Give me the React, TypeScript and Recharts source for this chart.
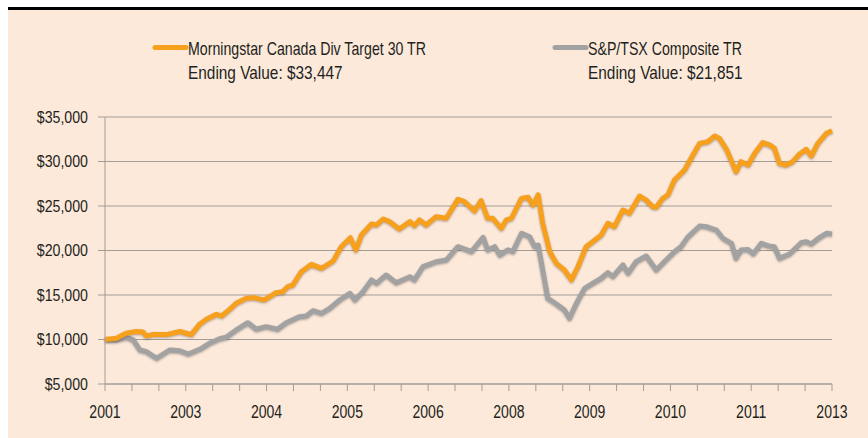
import { LineChart, Line, XAxis, YAxis, CartesianGrid } from 'recharts'

// month index from the start of 2001 (0..144)
const divMonths = [0, 2.3, 4.2, 6.2, 7.5, 8.2, 9.4, 12.2, 14.8, 16.1, 17.1, 18.8, 20.1, 22.1, 23.1, 24.7, 26.0, 28.0, 29.3, 31.6, 33.9, 35.2, 36.2, 37.2, 38.9, 40.9, 42.9, 45.2, 46.8, 48.6, 49.7, 50.8, 52.8, 53.8, 55.1, 56.4, 58.3, 60.4, 61.3, 62.3, 63.6, 65.6, 67.6, 69.9, 71.2, 73.2, 74.5, 75.8, 76.8, 78.5, 79.5, 80.5, 82.5, 83.8, 84.8, 85.8, 86.7, 88.1, 89.4, 91.0, 92.4, 93.7, 95.3, 96.6, 98.3, 99.6, 100.9, 102.6, 103.9, 105.9, 107.2, 108.5, 109.2, 110.5, 111.5, 112.8, 114.8, 116.1, 117.8, 119.4, 120.8, 121.7, 123.1, 125.0, 126.0, 127.4, 128.7, 130.3, 131.7, 132.6, 133.6, 134.9, 136.2, 137.6, 138.9, 139.9, 141.2, 142.9, 144]
const divValues = [10000, 10150, 10700, 10900, 10850, 10400, 10550, 10550, 10900, 10700, 10550, 11750, 12270, 12830, 12640, 13390, 14070, 14630, 14700, 14440, 15260, 15370, 15930, 16120, 17620, 18440, 18000, 18820, 20430, 21440, 20060, 21740, 22980, 22870, 23540, 23240, 22420, 23240, 22790, 23430, 22870, 23800, 23620, 25750, 25490, 24440, 25600, 23620, 23620, 22490, 23430, 23620, 25860, 25980, 25110, 26240, 23050, 19870, 18560, 17810, 16690, 18180, 20430, 20990, 21740, 23050, 22680, 24550, 24180, 26120, 25670, 24920, 24860, 25860, 26240, 27920, 29040, 30360, 32040, 32220, 32870, 32600, 31370, 28850, 29980, 29610, 30920, 32130, 31850, 31480, 29780, 29610, 29980, 30840, 31370, 30620, 32040, 33170, 33447]

const tsxMonths = [0, 2.3, 4.2, 5.6, 6.9, 8.2, 10.2, 12.8, 14.8, 16.5, 18.8, 20.7, 22.7, 24.0, 26.0, 28.3, 30.0, 31.9, 34.2, 35.9, 38.5, 39.9, 41.2, 42.9, 44.5, 46.5, 48.5, 49.5, 51.1, 52.8, 53.8, 55.7, 57.7, 60.4, 61.3, 63.0, 65.6, 67.6, 69.9, 72.6, 74.9, 75.8, 77.2, 78.2, 79.8, 80.8, 82.5, 84.1, 85.1, 85.8, 87.7, 89.4, 91.0, 92.0, 93.4, 95.0, 96.6, 98.3, 99.6, 100.6, 102.6, 103.6, 105.2, 107.2, 109.2, 110.8, 112.8, 114.1, 115.4, 117.8, 119.1, 121.1, 122.4, 124.1, 125.0, 126.0, 127.4, 128.4, 130.0, 131.4, 132.6, 133.6, 135.6, 137.9, 138.9, 139.9, 141.6, 142.9, 144]
const tsxValues = [10000, 9950, 10250, 9950, 8820, 8630, 7890, 8820, 8740, 8370, 8900, 9570, 10090, 10250, 11070, 11890, 11150, 11440, 11150, 11890, 12560, 12640, 13240, 12940, 13500, 14440, 15190, 14440, 15370, 16690, 16310, 17250, 16380, 17060, 16690, 18180, 18740, 18930, 20430, 19870, 21480, 20060, 20430, 19490, 20060, 19870, 21930, 21550, 20430, 20620, 14630, 13990, 13310, 12380, 14070, 15750, 16310, 16880, 17510, 17060, 18370, 17440, 18740, 19380, 17810, 18740, 19870, 20430, 21480, 22750, 22680, 22300, 21370, 20810, 19120, 20060, 20100, 19610, 20810, 20510, 20430, 19120, 19610, 20880, 20990, 20730, 21480, 21930, 21851]

const yearLabels = ['2001', '2003', '2004', '2005', '2006', '2008', '2009', '2010', '2011', '2013']
const yTicks = [5000, 10000, 15000, 20000, 25000, 30000, 35000]

const TICK_COUNT = 27
const xTicks = Array.from({ length: TICK_COUNT + 1 }, (_, i) => (i * 144) / TICK_COUNT)

const divData = divMonths.map((m, i) => ({ m, v: divValues[i] }))
const tsxData = tsxMonths.map((m, i) => ({ m, v: tsxValues[i] }))

const ORANGE = '#F6A01E'
const GRAY = '#A2A2A2'
const INK = '#231F20'
const BG = '#FCE9DA'
const AXIS = '#A39D98'
const FONT = '"Liberation Sans", Arial, sans-serif'

const fmtY = (v: number) => '$' + v.toLocaleString('en-US')

// condensed-looking tick text (the original uses a narrow face)
function XTick({ x, y, payload }: any) {
  const i = Math.round((payload.value * TICK_COUNT) / 144)
  if (i % 3 !== 0) return null
  return (
    <text transform={`translate(${x},${y + 27}) scale(0.74,1)`} textAnchor="middle" fill={INK} fontSize={19} fontFamily={FONT}>
      {yearLabels[i / 3]}
    </text>
  )
}

function YTick({ x, y, payload }: any) {
  return (
    <text transform={`translate(${x},${y + 5.8}) scale(0.86,1)`} textAnchor="end" fill={INK} fontSize={16.5} fontFamily={FONT}>
      {fmtY(payload.value)}
    </text>
  )
}

function LegendItem({ x, color, name, ending }: { x: number; color: string; name: string; ending: string }) {
  return (
    <g>
      <line x1={x - 33} x2={x - 2} y1={47.5} y2={47.5} stroke={color} strokeWidth={5} strokeLinecap="round" />
      <text transform={`translate(${x},54.5) scale(0.81,1)`} fill={INK} fontSize={17.5} fontFamily={FONT}>{name}</text>
      <text transform={`translate(${x},79) scale(0.88,1)`} fill={INK} fontSize={17.5} fontFamily={FONT}>{ending}</text>
    </g>
  )
}

export default function App() {
  return (
    <div style={{ position: 'absolute', left: 0, top: 0, width: 868, height: 438, background: '#fff', overflow: 'hidden' }}>
      <style>{'.recharts-line-curve{filter:drop-shadow(0px 1.5px 0.8px rgba(0,0,0,0.3))}'}</style>
      <div style={{ position: 'absolute', left: 8, top: 7, width: 860, height: 3, background: '#000' }} />
      <div style={{ position: 'absolute', left: 8, top: 10, width: 860, height: 428, background: BG }} />
      <svg width={868} height={100} style={{ position: 'absolute', left: 0, top: 0 }}>
        <LegendItem x={188} color={ORANGE} name="Morningstar Canada Div Target 30 TR" ending="Ending Value: $33,447" />
        <LegendItem x={588} color={GRAY} name="S&P/TSX Composite TR" ending="Ending Value: $21,851" />
      </svg>
      <div style={{ position: 'absolute', left: 0, top: 0 }}>
        <LineChart width={868} height={438} margin={{ top: 117, right: 36, bottom: 24, left: 15 }}>
          <CartesianGrid vertical={false} stroke={AXIS} strokeWidth={1} />
          <XAxis
            dataKey="m"
            type="number"
            domain={[0, 144]}
            ticks={xTicks}
            interval={0}
            height={30}
            stroke={AXIS}
            tickSize={7}
            tickMargin={0}
            tick={<XTick />}
          />
          <YAxis
            domain={[5000, 35000]}
            ticks={yTicks}
            width={90}
            interval={0}
            stroke={AXIS}
            tickSize={7}
            tickMargin={10}
            tick={<YTick />}
          />
          <Line data={tsxData} dataKey="v" type="linear" stroke={GRAY} strokeWidth={5} dot={false} isAnimationActive={false} strokeLinejoin="round" />
          <Line data={divData} dataKey="v" type="linear" stroke={ORANGE} strokeWidth={5} dot={false} isAnimationActive={false} strokeLinejoin="round" />
        </LineChart>
      </div>
    </div>
  )
}
